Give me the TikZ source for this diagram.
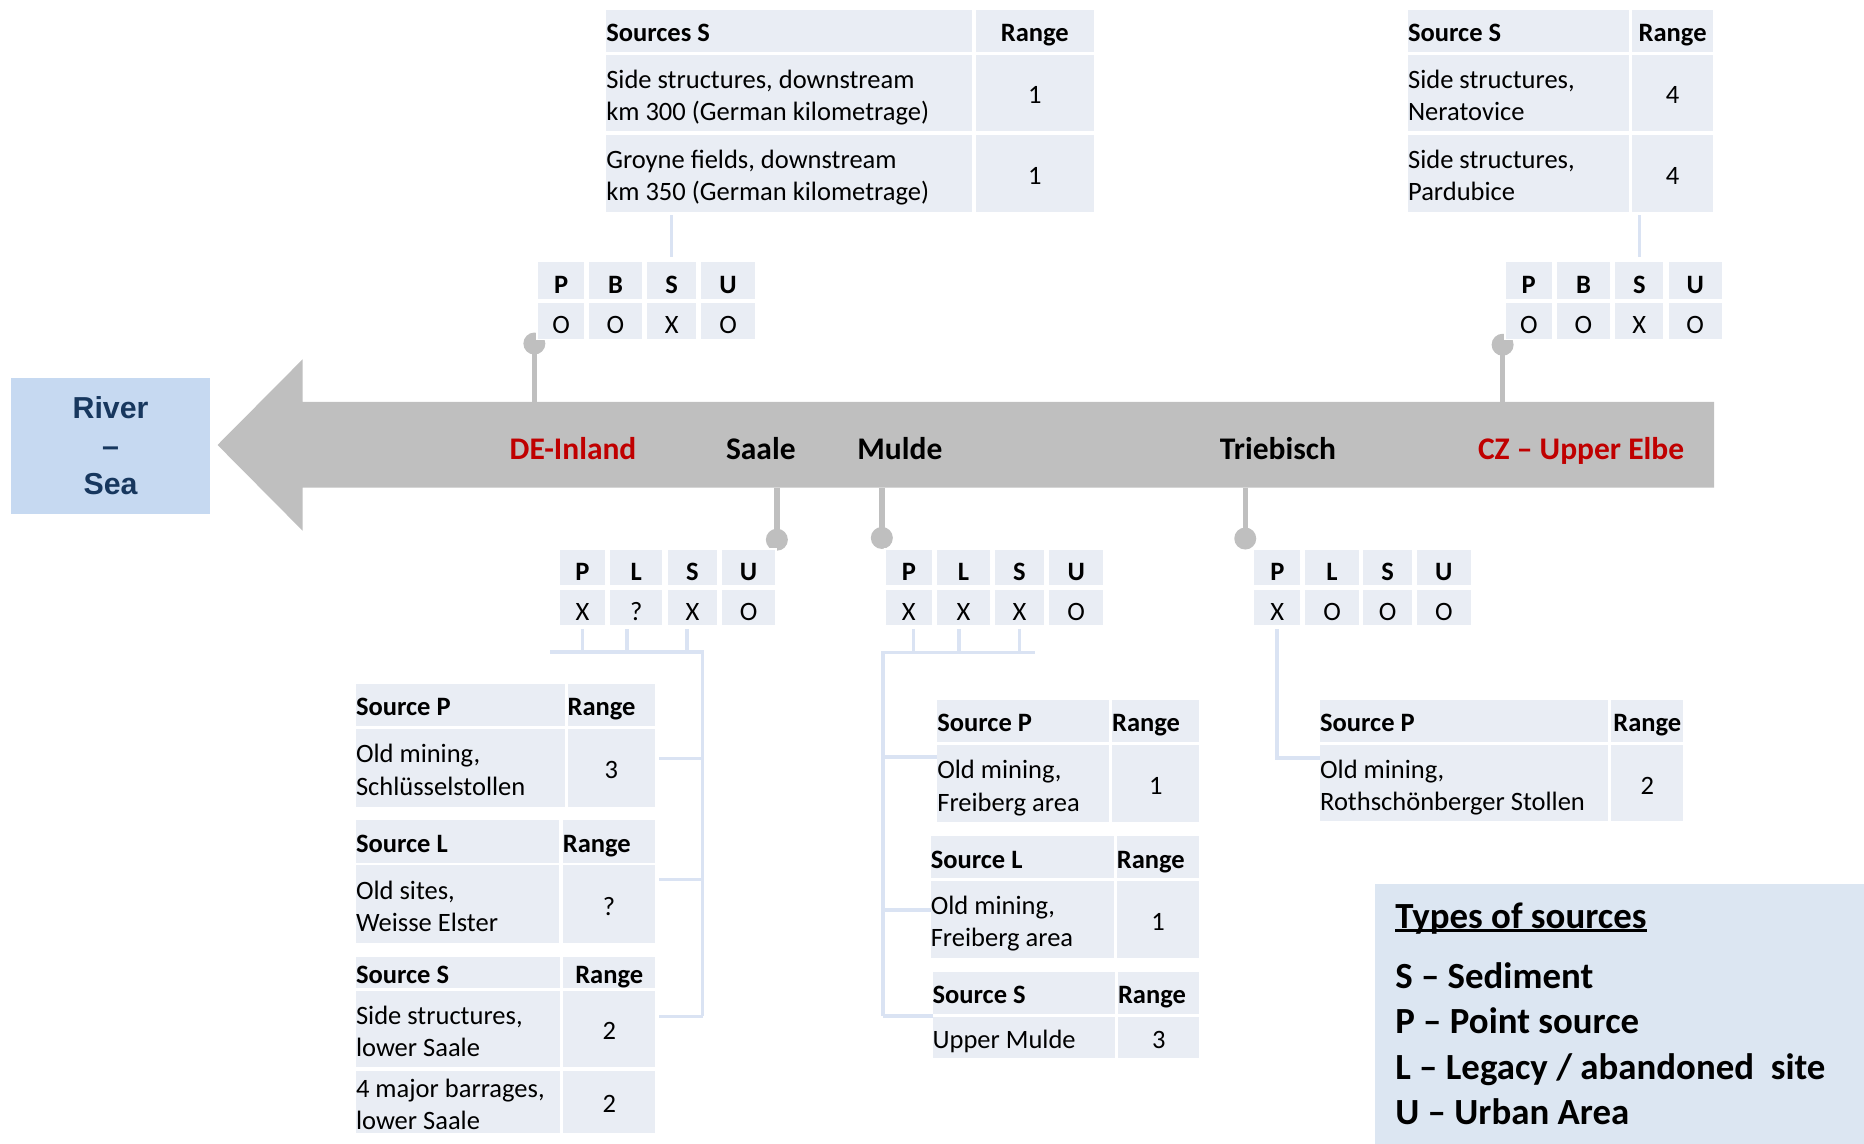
\documentclass[tikz,border=0pt]{standalone}
\usepackage{fontspec}
\setmainfont{Carlito}
\newfontfamily\riverfont{Liberation Sans}
\usetikzlibrary{calc}

\definecolor{cellc}{HTML}{E9EDF4}
\definecolor{linkc}{HTML}{DAE3F3}
\definecolor{legc}{HTML}{DCE6F2}
\definecolor{riverc}{HTML}{C6D9F1}
\definecolor{navy}{HTML}{17375E}
\definecolor{redc}{HTML}{C00000}
\definecolor{flowc}{HTML}{BFBFBF}

\newcommand\tabfont{\fontsize{22.3}{27}\selectfont}
\newcommand\legfont{\fontsize{31}{38}\selectfont\bfseries}
% strut that centres a line on its capital height
\newcommand\sv{\rule[-0.27em]{0pt}{1.185em}}
\newcommand\uline[1]{\setbox0\hbox{#1}\rlap{\rule[-0.09em]{\wd0}{0.07em}}\box0}

% table cells: name, x1, y1, x2, y2 (and text)
\newcommand\boxcell[6][cell]{\node[#1,minimum width={#5-#3},minimum height={#6-#4}] (#2) at ({(#3+#5)/2},{(#4+#6)/2}) {};}
\newcommand\lcell[6]{\boxcell{#1}{#2}{#3}{#4}{#5}\node[ttext,anchor=west,align=left] (#1-t) at (#1.west) {#6};}
% two-line cell text
\newcommand\lcellb[6]{\boxcell{#1}{#2}{#3}{#4}{#5}\node[ttext,yshift=-2.8pt,anchor=west,align=left] (#1-t) at (#1.west) {#6};}
\newcommand\ccell[6]{\boxcell{#1}{#2}{#3}{#4}{#5}\node[ttext,align=center] (#1-t) at (#1.center) {#6};}
\newcommand\gcell[6]{\boxcell[gridcell]{#1}{#2}{#3}{#4}{#5}\node[gtext] (#1-t) at (#1.center) {#6};}

\begin{document}
\begin{tikzpicture}[x=1pt,y=-1pt,
  cell/.style={rectangle,fill=cellc,draw=none,inner sep=0pt,outer sep=0pt},
  gridcell/.style={cell,draw=white,line width=1.5pt},
  ttext/.style={font=\tabfont,inner sep=0pt,outer sep=0pt,yshift=-2pt,
    execute at begin node=\sv,execute at end node=\sv},
  gtext/.style={font=\tabfont,inner sep=0pt,outer sep=0pt,yshift=-3.5pt,
    execute at begin node=\sv,execute at end node=\sv},
  link/.style={draw=linkc,line width=3pt},
  stem/.style={draw=flowc,line width=4.5pt},
  knob/.style={circle,fill=flowc,minimum size=18.5pt,inner sep=0pt,outer sep=0pt},
  flowlabel/.style={font=\fontsize{26.5}{30}\selectfont\bfseries,inner sep=0pt,anchor=base},
  legtext/.style={font=\legfont,inner sep=0pt,anchor=base west}]

\useasboundingbox (0,0) rectangle (1568,962);

% river box
\node[fill=riverc,inner sep=0pt,minimum width=168,minimum height=114] (river) at (93,375) {};
\node[font=\riverfont\bfseries\fontsize{25.5}{32}\selectfont,text=navy,align=center,inner sep=0pt] (riverT) at (river.center) {River\\–\\Sea};

% flow arrow
\fill[flowc] (183,374.3) -- (254.5,302.3) -- (254.5,338) -- (1442,338) -- (1442,410.2)
  -- (254.5,410.2) -- (254.5,446.4) -- cycle;

% stems and knobs
\coordinate (deS) at (449.5,338);
\coordinate (czS) at (1264,338);
\coordinate (saS) at (653.5,410.2);
\coordinate (muS) at (741.8,410.2);
\coordinate (trS) at (1047.5,410.2);
\node[knob] (deK) at (449.5,289) {};
\node[knob] (czK) at (1264,290) {};
\node[knob] (saK) at (653.5,454) {};
\node[knob] (muK) at (741.8,452.5) {};
\node[knob] (trK0) at (1047.5,453) {};
\draw[stem] (deS) -- (deK.center);
\draw[stem] (czS) -- (czK.center);
\draw[stem] (saS) -- (saK.center);
\draw[stem] (muS) -- (muK.center);
\draw[stem] (trS) -- (trK0.center);

% labels on the arrow
\node[flowlabel,text=redc] (lbDE) at (482,386.5) {DE-Inland};
\node[flowlabel] (lbSa) at (640,386.5) {Saale};
\node[flowlabel] (lbMu) at (757,386.5) {Mulde};
\node[flowlabel] (lbTr) at (1075,386.5) {Triebisch};
\node[flowlabel,text=redc] (lbCZ) at (1330,386.5) {CZ – Upper Elbe};

% ---- DE-Inland: sediment sources
\lcell{tA-h1}{510}{8}{818}{43.5}{\bfseries Sources S}
\ccell{tA-h2}{821}{8}{920}{43.5}{\bfseries Range}
\lcellb{tA-a1}{510}{46}{818}{110.5}{Side structures, downstream\\km 300 (German kilometrage)}
\ccell{tA-b1}{821}{46}{920}{110.5}{1}
\lcellb{tA-a2}{510}{113.5}{818}{178}{Groyne fields, downstream\\km 350 (German kilometrage)}
\ccell{tA-b2}{821}{113.5}{920}{178}{1}

\gcell{gA-p}{452}{220}{492}{252}{\bfseries P}
\gcell{gA-b}{494.5}{220}{541}{252}{\bfseries B}
\gcell{gA-s}{543.5}{220}{586.5}{252}{\bfseries S}
\gcell{gA-u}{589}{220}{636}{252}{\bfseries U}
\gcell{gA-p2}{452}{254.5}{492}{285.5}{O}
\gcell{gA-b2}{494.5}{254.5}{541}{285.5}{O}
\gcell{gA-s2}{543.5}{254.5}{586.5}{285.5}{X}
\gcell{gA-u2}{589}{254.5}{636}{285.5}{O}
\draw[link] ([yshift=4pt]gA-s.north) -- ([yshift=-3pt]gA-s.north |- tA-a2.south);

% ---- CZ - Upper Elbe: sediment sources
\lcell{tB-h1}{1184.5}{8}{1370.5}{43.5}{\bfseries Source S}
\ccell{tB-h2}{1373}{8}{1441}{43.5}{\bfseries Range}
\lcellb{tB-a1}{1184.5}{46}{1370.5}{110.5}{Side structures,\\Neratovice}
\ccell{tB-b1}{1373}{46}{1441}{110.5}{4}
\lcellb{tB-a2}{1184.5}{113.5}{1370.5}{178}{Side structures,\\Pardubice}
\ccell{tB-b2}{1373}{113.5}{1441}{178}{4}

\gcell{gB-p}{1266}{220}{1306}{252}{\bfseries P}
\gcell{gB-b}{1309}{220}{1355}{252}{\bfseries B}
\gcell{gB-s}{1358}{220}{1400}{252}{\bfseries S}
\gcell{gB-u}{1403}{220}{1449}{252}{\bfseries U}
\gcell{gB-p2}{1266}{254.5}{1306}{285.5}{O}
\gcell{gB-b2}{1309}{254.5}{1355}{285.5}{O}
\gcell{gB-s2}{1358}{254.5}{1400}{285.5}{X}
\gcell{gB-u2}{1403}{254.5}{1449}{285.5}{O}
\draw[link] ([yshift=4pt]gB-s.north) -- ([yshift=-3pt]gB-s.north |- tB-a2.south);

% ---- Saale
\gcell{gS-p}{470}{462}{510}{493}{\bfseries P}
\gcell{gS-l}{512.5}{462}{558}{493}{\bfseries L}
\gcell{gS-s}{561}{462}{604}{493}{\bfseries S}
\gcell{gS-u}{606.5}{462}{653}{493}{\bfseries U}
\gcell{gS-p2}{470}{495.5}{510}{526.5}{X}
\gcell{gS-l2}{512.5}{495.5}{558}{526.5}{?}
\gcell{gS-s2}{561}{495.5}{604}{526.5}{X}
\gcell{gS-u2}{606.5}{495.5}{653}{526.5}{O}

\lcell{saP-h1}{299.5}{575}{475}{611}{\bfseries Source P}
\lcell{saP-h2}{477.5}{575}{551}{611}{\bfseries Range}
\lcellb{saP-a}{299.5}{613}{475}{678.5}{Old mining,\\Schlüsselstollen}
\ccell{saP-b}{477.5}{613}{551}{678.5}{3}
\lcell{saL-h1}{299.5}{690}{470}{726}{\bfseries Source L}
\lcell{saL-h2}{473.5}{690}{551}{726}{\bfseries Range}
\lcellb{saL-a}{299.5}{728}{470}{793}{Old sites,\\Weisse Elster}
\ccell{saL-b}{473.5}{728}{551}{793}{?}
\lcell{saS-h1}{299.5}{805}{471}{831}{\bfseries Source S}
\ccell{saS-h2}{474}{805}{551}{831}{\bfseries Range}
\lcellb{saS-a1}{299.5}{833.5}{471}{897.5}{Side structures,\\lower Saale}
\ccell{saS-b1}{474}{833.5}{551}{897.5}{2}
\lcellb{saS-a2}{299.5}{900.5}{471}{953}{4 major barrages,\\lower Saale}
\ccell{saS-b2}{474}{900.5}{551}{953}{2}

\coordinate (saL) at (463,548.5);
\coordinate (saR) at (591,548.5);
\coordinate (saE) at (591,855);
\coordinate (sa1) at (591,638);
\coordinate (sa2) at (591,740);
\draw[link] ([yshift=-2.5pt]gS-p2.south) -- ++(0,19.5);
\draw[link] ([xshift=-8pt,yshift=-2.5pt]gS-l2.south) -- ++(0,19.5);
\draw[link] ([xshift=-4.5pt,yshift=-2.5pt]gS-s2.south) -- ++(0,19.5);
\draw[link] (saL) -- (saR) -- (saE);
\draw[link] (sa1) -- ([xshift=3pt]sa1 -| saP-b.east);
\draw[link] (sa2) -- ([xshift=3pt]sa2 -| saL-b.east);
\draw[link] (saE) -- ([xshift=3pt]saE -| saS-b1.east);

% ---- Mulde
\gcell{gM-p}{744.5}{462}{784.5}{493}{\bfseries P}
\gcell{gM-l}{787.5}{462}{833.5}{493}{\bfseries L}
\gcell{gM-s}{836}{462}{879}{493}{\bfseries S}
\gcell{gM-u}{882}{462}{928.5}{493}{\bfseries U}
\gcell{gM-p2}{744.5}{495.5}{784.5}{526.5}{X}
\gcell{gM-l2}{787.5}{495.5}{833.5}{526.5}{X}
\gcell{gM-s2}{836}{495.5}{879}{526.5}{X}
\gcell{gM-u2}{882}{495.5}{928.5}{526.5}{O}

\lcell{muP-h1}{788.5}{588.5}{932.5}{624}{\bfseries Source P}
\lcell{muP-h2}{935.5}{588.5}{1009}{624}{\bfseries Range}
\lcellb{muP-a}{788.5}{627}{932.5}{691.5}{Old mining,\\Freiberg area}
\ccell{muP-b}{935.5}{627}{1009}{691.5}{1}
\lcell{muL-h1}{783}{703.5}{937}{738.5}{\bfseries Source L}
\lcell{muL-h2}{939.5}{703.5}{1009}{738.5}{\bfseries Range}
\lcellb{muL-a}{783}{741}{937}{806}{Old mining,\\Freiberg area}
\ccell{muL-b}{939.5}{741}{1009}{806}{1}
\lcell{muS-h1}{784.5}{817.5}{938}{853}{\bfseries Source S}
\lcell{muS-h2}{940.5}{817.5}{1009}{853}{\bfseries Range}
\lcell{muS-a}{784.5}{855.5}{938}{890}{Upper Mulde}
\ccell{muS-b}{940.5}{855.5}{1009}{890}{3}

\coordinate (muL) at (743,549);
\coordinate (muR) at (870.5,549);
\coordinate (muE) at (743,854.5);
\coordinate (mu1) at (743,637);
\coordinate (mu2) at (743,765.5);
\draw[link] ([xshift=3.8pt,yshift=-2.5pt]gM-p2.south) -- ++(0,19.5);
\draw[link] ([xshift=-3.8pt,yshift=-2.5pt]gM-l2.south) -- ++(0,19.5);
\draw[link] ([yshift=-2.5pt]gM-s2.south) -- ++(0,19.5);
\draw[link] (muR) -- (muL) -- (muE);
\draw[link] (mu1) -- (mu1 -| muP-a.west);
\draw[link] (mu2) -- (mu2 -| muL-a.west);
\draw[link] (muE) -- (muE -| muS-a.west);

% ---- Triebisch
\gcell{gT-p}{1054.5}{462}{1094.5}{493}{\bfseries P}
\gcell{gT-l}{1097}{462}{1144}{493}{\bfseries L}
\gcell{gT-s}{1146}{462}{1188.5}{493}{\bfseries S}
\gcell{gT-u}{1191}{462}{1238}{493}{\bfseries U}
\gcell{gT-p2}{1054.5}{495.5}{1094.5}{526.5}{X}
\gcell{gT-l2}{1097}{495.5}{1144}{526.5}{O}
\gcell{gT-s2}{1146}{495.5}{1188.5}{526.5}{O}
\gcell{gT-u2}{1191}{495.5}{1238}{526.5}{O}

\lcell{trP-h1}{1110.5}{589}{1353}{624}{\bfseries Source P}
\ccell{trP-h2}{1355.5}{589}{1416}{624}{\bfseries Range}
\lcellb{trP-a}{1110.5}{626.5}{1353}{691}{Old mining,\\Rothschönberger Stollen}
\ccell{trP-b}{1355.5}{626.5}{1416}{691}{2}

\coordinate (trK) at (1074,637.5);
\draw[link] ([xshift=-0.5pt,yshift=-2.5pt]gT-p2.south) -- (trK) -- (trK -| trP-a.west);

% ---- legend
\node[fill=legc,inner sep=0pt,outer sep=0pt,anchor=north west,minimum width=411.5,minimum height=219] (legend) at (1157,743.5) {};
\node[legtext] (legT) at (1173.5,781) {\uline{Types of sources}};
\node[legtext] (legS) at (1173.5,831.5) {S – Sediment};
\node[legtext] (legP) at (1173.5,869.5) {P – Point source};
\node[legtext] (legL) at (1173.5,908) {L – Legacy / abandoned\ \ site};
\node[legtext] (legU) at (1173.5,945.5) {U – Urban Area};
\end{tikzpicture}
\end{document}
